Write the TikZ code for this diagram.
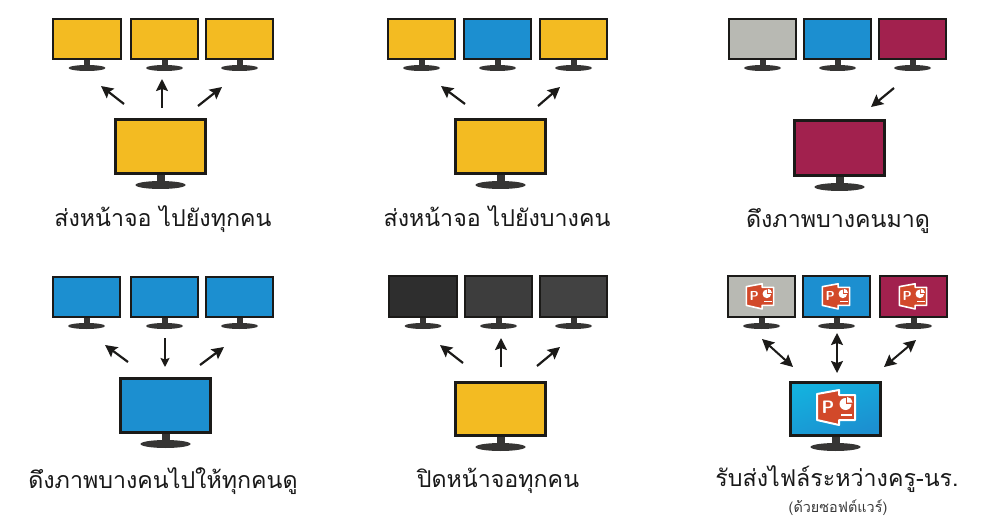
\documentclass[tikz,border=0pt]{standalone}
\usepackage{fontspec}
\usetikzlibrary{arrows.meta}
\newfontfamily\thaifont[Script=Thai]{Loma}
\definecolor{cyellow}{HTML}{F3BB22}
\definecolor{cblue}{HTML}{1C8FD0}
\definecolor{cgray}{HTML}{B8B9B3}
\definecolor{cmaroon}{HTML}{A2214E}
\definecolor{cframe}{HTML}{1B1A18}
\definecolor{cpp}{HTML}{D2492A}
\tikzset{
  screenbox/.style={draw=cframe,line width=2.2pt,inner sep=0pt,rectangle},
  standpart/.style={fill=cframe!88!white,draw=none},
  arrowline/.style={-{Stealth[length=12pt,width=12pt,inset=2pt]},line width=2.2pt,cframe},
  thinarrow/.style={-{Stealth[length=9pt,width=9pt,inset=1.5pt]},line width=1.6pt,cframe},
  bothline/.style={{Stealth[length=12pt,width=12pt,inset=2pt]}-{Stealth[length=12pt,width=12pt,inset=2pt]},line width=2pt,cframe},
  caption/.style={font=\thaifont\fontsize{23.2}{27}\selectfont,text=black!90,inner sep=0pt,anchor=base},
  subcaption/.style={font=\thaifont\fontsize{14.4}{17}\selectfont,text=black!78,inner sep=0pt,anchor=base}
}
% name, left, top, right, bottom, colour
\newcommand{\monitorsmall}[6]{%
  \node[screenbox,fill=#6,minimum width=#4pt-#2pt-2.2pt,minimum height=#5pt-#3pt-2.2pt] (#1) at ({(#2+#4)/2},{(#3+#5)/2}) {};
  \fill[standpart] ({(#2+#4)/2-3},#5) rectangle ({(#2+#4)/2+3},#5+6);
  \fill[standpart] ({(#2+#4)/2},#5+8) ellipse [x radius=18.5,y radius=3];
}
\newcommand{\monitorlarge}[6]{%
  \node[screenbox,line width=3pt,#6,minimum width=#4pt-#2pt-3pt,minimum height=#5pt-#3pt-3pt] (#1) at ({(#2+#4)/2},{(#3+#5)/2}) {};
  \fill[standpart] ({(#2+#4)/2-4},#5) rectangle ({(#2+#4)/2+4},#5+7);
  \fill[standpart] ({(#2+#4)/2},#5+10) ellipse [x radius=25,y radius=4];
}
% name, tail x,y, head x,y, style
\newcommand{\arrowlink}[6]{%
  \coordinate (#1a) at (#2,#3);
  \coordinate (#1b) at (#4,#5);
  \draw[#6] (#1a) -- (#1b);
}
% position, scale, letter size, outline width
\newcommand{\ppticon}[4]{%
  \begin{scope}[shift={(#1)},scale=#2]
    \draw[white,line width=#4pt,line join=round,fill=cpp]
      (-19,-13) -- (3,-17) -- (3,-12) -- (19,-12) -- (19,13) -- (3,13) -- (3,18) -- (-19,13) -- cycle;
    \node[text=white,inner sep=0pt,font=\sffamily\bfseries\fontsize{#3}{#3}\selectfont] at (-8,0) {P};
    \fill[white] (9.5,-3) circle [radius=6];
    \fill[cpp] (9.5,-3) rectangle (16,-10);
    \fill[white] (11,-4.5) -- (11,-10) arc[start angle=-90,end angle=0,radius=5.5] -- cycle;
    \fill[white] (5,7) rectangle (16,9);
  \end{scope}
}
\begin{document}
\begin{tikzpicture}[x=1pt,y=-1pt]
\useasboundingbox (0,0) rectangle (1000,529);
% column 1 row 1
\monitorsmall{aa}{52}{18}{122}{60}{cyellow}
\monitorsmall{ab}{130}{18}{199}{60}{cyellow}
\monitorsmall{ac}{205}{18}{274}{60}{cyellow}
\monitorlarge{al}{114}{118}{207}{175}{fill=cyellow}
\arrowlink{a1}{124}{104}{101}{86}{arrowline}
\arrowlink{a2}{162}{108}{162}{79}{arrowline}
\arrowlink{a3}{198}{106}{222}{87}{arrowline}
\node[caption] (ta) at (163,227) {ส่งหน้าจอ ไปยังทุกคน};
% column 2 row 1
\monitorsmall{ba}{387}{18}{456}{60}{cyellow}
\monitorsmall{bb}{463}{18}{532}{60}{cblue}
\monitorsmall{bc}{539}{18}{608}{60}{cyellow}
\monitorlarge{bl}{454}{118}{547}{175}{fill=cyellow}
\arrowlink{b1}{465}{104}{441}{86}{arrowline}
\arrowlink{b3}{538}{106}{560}{87}{arrowline}
\node[caption] (tb) at (497,227) {ส่งหน้าจอ ไปยังบางคน};
% column 3 row 1
\monitorsmall{ca}{728}{18}{797}{60}{cgray}
\monitorsmall{cb}{803}{18}{872}{60}{cblue}
\monitorsmall{cc}{878}{18}{947}{60}{cmaroon}
\monitorlarge{cl}{793}{119}{886}{177}{fill=cmaroon}
\arrowlink{c1}{894}{88}{871}{107}{arrowline}
\node[caption] (tc) at (838,228) {ดึงภาพบางคนมาดู};
% column 1 row 2
\monitorsmall{da}{52}{276}{121}{318}{cblue}
\monitorsmall{db}{130}{276}{199}{318}{cblue}
\monitorsmall{dc}{205}{276}{274}{318}{cblue}
\monitorlarge{dl}{119}{377}{212}{434}{fill=cblue}
\arrowlink{d1}{128}{362}{105}{345}{arrowline}
\arrowlink{d2}{165}{338}{165}{367}{thinarrow}
\arrowlink{d3}{200}{365}{224}{347}{arrowline}
\node[caption] (td) at (163,488) {ดึงภาพบางคนไปให้ทุกคนดู};
% column 2 row 2
\monitorsmall{ea}{388}{275}{458}{318}{black!82}
\monitorsmall{eb}{464}{275}{533}{318}{black!76}
\monitorsmall{ec}{539}{275}{608}{318}{black!74}
\monitorlarge{el}{454}{381}{547}{437}{fill=cyellow}
\arrowlink{e1}{463}{363}{440}{345}{arrowline}
\arrowlink{e2}{501}{367}{501}{338}{arrowline}
\arrowlink{e3}{537}{366}{560}{347}{arrowline}
\node[caption] (te) at (498,487) {ปิดหน้าจอทุกคน};
% column 3 row 2
\monitorsmall{fa}{727}{275}{796}{318}{cgray}
\monitorsmall{fb}{802}{275}{871}{318}{cblue}
\monitorsmall{fc}{879}{275}{948}{318}{cmaroon}
\monitorlarge{fl}{789}{381}{882}{437}{top color=cblue!70!cyan,bottom color=cblue,shading angle=20}
\ppticon{760,296}{0.72}{13}{1.6}
\ppticon{836,296}{0.72}{13}{1.6}
\ppticon{913,296}{0.72}{13}{1.6}
\ppticon{836,407}{1}{18}{2}
\arrowlink{f1}{762}{339}{793}{367}{bothline}
\arrowlink{f2}{837}{333}{837}{373}{bothline}
\arrowlink{f3}{916}{340}{884}{367}{bothline}
\node[caption] (tf) at (837,486) {รับส่งไฟล์ระหว่างครู-นร.};
\node[subcaption] (tg) at (838,512) {(ด้วยซอฟต์แวร์)};
\end{tikzpicture}
\end{document}
